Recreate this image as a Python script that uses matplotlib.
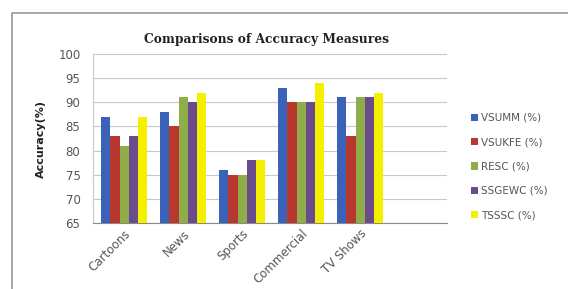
import matplotlib
matplotlib.use("Agg")
import matplotlib.pyplot as plt
import numpy as np
from matplotlib.patches import Rectangle

categories = ["Cartoons", "News", "Sports", "Commercial", "TV Shows"]
series_names = ["VSUMM (%)", "VSUKFE (%)", "RESC (%)", "SSGEWC (%)", "TSSSC (%)"]
vsumm = [87, 88, 76, 93, 91]
vsukfe = [83, 85, 75, 90, 83]
resc = [81, 91, 75, 90, 91]
ssgewc = [83, 90, 78, 90, 91]
tsssc = [87, 92, 78, 94, 92]
colors = ["#3a62b8", "#b8372e", "#8fae4a", "#6a4c8c", "#f5f000"]

fig = plt.figure(figsize=(5.68, 2.89), dpi=100)
fig.patch.set_facecolor("white")

# outer chart frame
fig.patches.append(Rectangle((12 / 568, -0.1), 1.2, 0.1 + 1 - 13 / 289,
                             transform=fig.transFigure, fill=False,
                             edgecolor="#9a9a9a", linewidth=1.2))

ax = fig.add_axes([93 / 568, 1 - 223 / 289, 354 / 568, 169 / 289])
x = np.arange(len(categories))
w = 0.157
for i, (vals, name) in enumerate(zip([vsumm, vsukfe, resc, ssgewc, tsssc], series_names)):
    ax.bar(x + (i - 2) * w, vals, width=w, color=colors[i], label=name, zorder=3)

ax.set_xlim(-0.53, 5.47)
ax.set_ylim(65, 100)
ax.set_yticks(range(65, 101, 5))
ax.grid(axis="y", color="#c8c8c8", linewidth=0.8, zorder=0)
for s in ["top", "right"]:
    ax.spines[s].set_visible(False)
ax.spines["left"].set_color("#c8c8c8")
ax.spines["bottom"].set_color("#8a8a8a")
ax.tick_params(axis="y", length=0, labelsize=8.5, colors="#555555", pad=9)
ax.tick_params(axis="x", length=0, labelsize=8.5, colors="#555555", pad=3)
ax.set_xticks(x)
ax.set_xticklabels(categories, rotation=45, ha="right", rotation_mode="anchor")
ax.set_ylabel("Accuracy(%)", fontsize=8, fontweight="bold", color="#222222", labelpad=9)

fig.text(267 / 568, 1 - 40 / 289, "Comparisons of Accuracy Measures",
         ha="center", va="center", fontsize=8.8, fontweight="bold",
         family="DejaVu Serif", color="#222222")

fig.legend(loc="upper left", bbox_to_anchor=(0.822, 0.624), frameon=False,
           fontsize=7.5, labelcolor="#555555", handlelength=0.7, handleheight=0.7,
           handletextpad=0.3, labelspacing=1.38, borderaxespad=0)

fig.savefig("out.png", dpi=100, facecolor="white")
